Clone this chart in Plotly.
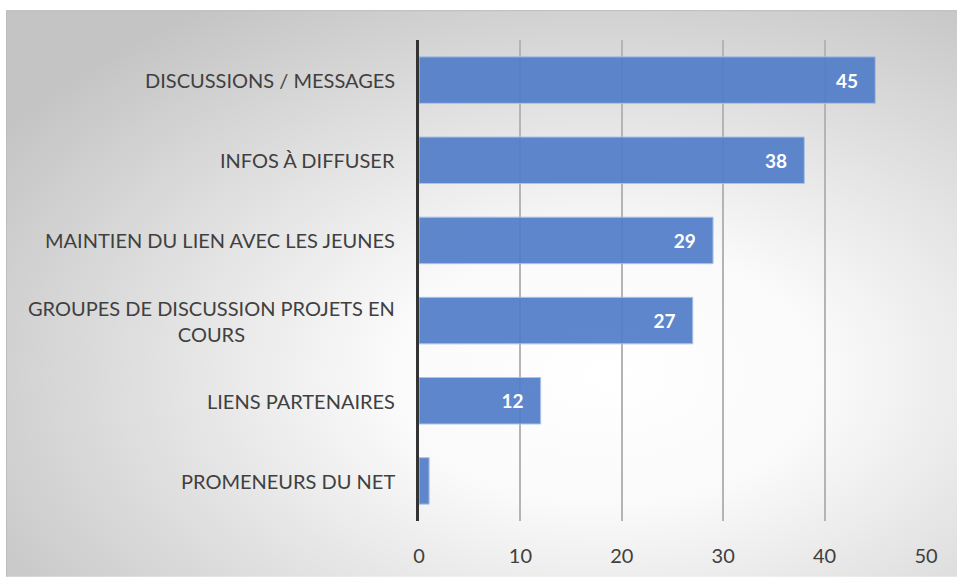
import base64
import plotly.graph_objects as go

# Données
categories = [
    "DISCUSSIONS / MESSAGES",
    "INFOS À DIFFUSER",
    "MAINTIEN DU LIEN AVEC LES JEUNES",
    "GROUPES DE DISCUSSION PROJETS EN<br>COURS",
    "LIENS PARTENAIRES",
    "PROMENEURS DU NET",
]
valeurs = [45, 38, 29, 27, 12, 1]
x_ticks = [0, 10, 20, 30, 40, 50]

W, H = 957, 579
ML, MR, MT, MB = 419, 31, 40, 56
PW, PH = W - ML - MR, H - MT - MB
# coin haut-gauche du cadre du graphique
CX, CY = 6, 10

FONT = "Lato"
GRIS_TEXTE = "#404040"

# fond en dégradé radial (comme le style Excel)
svg = f"""<svg xmlns='http://www.w3.org/2000/svg' width='{W - CX}' height='{H - CY}'>
<defs><radialGradient id='g' cx='0.62' cy='0.62' r='0.75'>
<stop offset='0' stop-color='#ffffff'/><stop offset='0.3' stop-color='#fafafa'/>
<stop offset='1' stop-color='#c4c4c4'/></radialGradient></defs>
<rect x='0.5' y='0.5' width='{W + 10}' height='{H + 10}' fill='url(#g)' stroke='#bdbdbd' stroke-width='1'/>
</svg>"""
fond = "data:image/svg+xml;base64," + base64.b64encode(svg.encode()).decode()

fig = go.Figure()

fig.add_trace(go.Bar(
    x=valeurs,
    y=categories,
    orientation="h",
    marker=dict(color="#537ec9", opacity=0.93,
                line=dict(color="#a9c0e6", width=1)),
    text=valeurs,
    texttemplate="%{x}\u2003",
    textposition="inside",
    insidetextanchor="end",
    textfont=dict(family=FONT, size=19, color="white", weight="bold"),
    hoverinfo="skip",
))

# étiquettes des catégories (centrées sur plusieurs lignes)
for cat in categories:
    fig.add_annotation(
        x=-22 / PW, xref="paper", y=cat, yref="y",
        text=cat, showarrow=False, xanchor="right", align="center",
        font=dict(family=FONT, size=20, color=GRIS_TEXTE),
    )

fig.add_layout_image(
    source=fond, xref="paper", yref="paper",
    x=(CX - ML) / PW, y=(H - MB - CY) / PH,
    sizex=(W - CX) / PW, sizey=(H - CY) / PH,
    xanchor="left", yanchor="top", sizing="stretch", layer="below",
)

fig.update_layout(
    width=W, height=H,
    margin=dict(l=ML, r=MR, t=MT, b=MB),
    paper_bgcolor="white",
    plot_bgcolor="rgba(0,0,0,0)",
    showlegend=False,
    bargap=0.42,
    uniformtext=dict(minsize=18, mode="hide"),
    xaxis=dict(
        range=[0, 50], tickvals=x_ticks, showgrid=True,
        gridcolor="#b4b4b4", gridwidth=1.5, zeroline=False,
        tickfont=dict(family=FONT, size=20, color=GRIS_TEXTE),
        ticklabelstandoff=21, fixedrange=True,
    ),
    yaxis=dict(
        autorange="reversed", showticklabels=False, showgrid=False,
        showline=True, linecolor="#333333", linewidth=3, fixedrange=True,
    ),
)

# pas de marge de page autour de la figure
fig.write_html(
    "out.html",
    config={"displayModeBar": False},
    post_script="document.body.style.margin='0';document.body.style.overflow='hidden';",
)
